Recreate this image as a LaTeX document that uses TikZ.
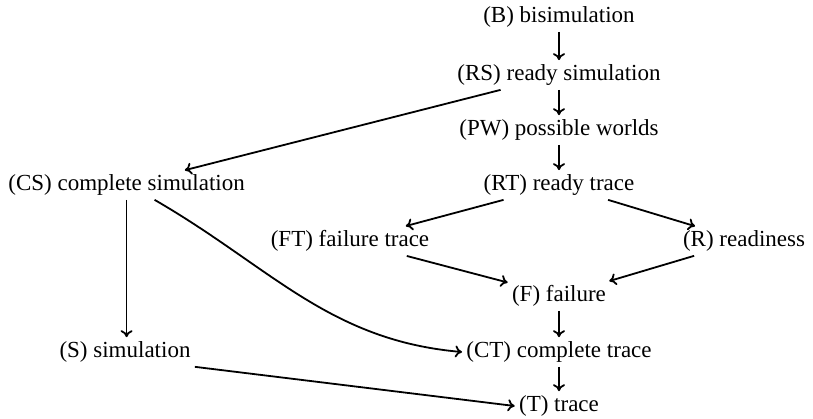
\documentclass[tikz,border=0pt]{standalone}
\usepackage{fontspec}
\setmainfont{Liberation Serif}
\usepackage{tikz}
\usetikzlibrary{positioning, arrows.meta}
\tikzstyle{equiv} = [rectangle, inner sep=2pt, text centered, font=\fontsize{11.5}{13}\selectfont]
\tikzstyle{impl}  = [-{To[length=3.5pt, width=6pt]}, line width=0.9pt]

\begin{document}
\begin{tikzpicture}[x=0.5pt, y=-0.5pt]
            \useasboundingbox (0,0) rectangle (813,418);
            \node[equiv] (b)  at (559,17)  {(B) bisimulation};
            \node[equiv] (rs) at (559,75)  {(RS) ready simulation};
            \node[equiv] (pw) at (559,130) {(PW) possible worlds};
            \node[equiv] (rt) at (559,185) {(RT) ready trace};
            \node[equiv, anchor=west] (cs) at (4,185) {(CS) complete simulation};
            \node[equiv] (ft) at (350,241) {(FT) failure trace};
            \node[equiv] (r)  at (744,241) {(R) readiness};
            \node[equiv] (f)  at (559,296) {(F) failure};
            \node[equiv] (s)  at (125,352) {(S) simulation};
            \node[equiv] (ct) at (559,352) {(CT) complete trace};
            \node[equiv] (t)  at (559,406) {(T) trace};

            \draw[impl] (b) -- (rs);
            \draw[impl] (rs) -- (pw);
            \draw[impl] (pw) -- (rt);
            \draw[impl] (rs) -- (cs);
            \draw[impl] (rt) -- (ft);
            \draw[impl] (rt) -- (r);
            \draw[impl] (ft) -- (f);
            \draw[impl] (r) -- (f);
            \draw[impl] (f) -- (ct);
            \draw[impl] (ct) -- (t);
            \draw[impl] (cs.south) -- (cs.south |- s.north);
            \draw[impl] ([xshift=14pt]cs.south) to[out=-30, in=175] (ct.west);
            \draw[impl] (s.south east) -- (t.west);
        \end{tikzpicture}
\end{document}
